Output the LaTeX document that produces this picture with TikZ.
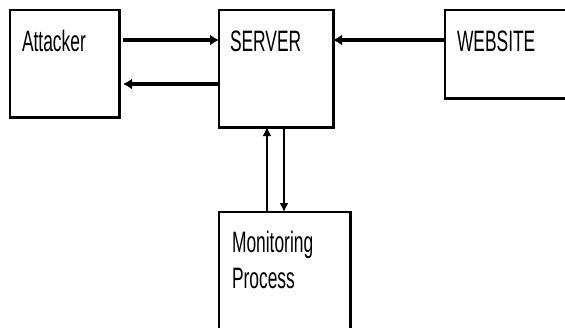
\documentclass[tikz,border=0pt]{standalone}
\usepackage{fontspec}
\usetikzlibrary{arrows.meta}
\newfontfamily\lblfont[FakeStretch=0.59]{Liberation Sans}
\tikzset{
  boxnode/.style={draw=black, line width=1.5pt, inner sep=0pt, outer sep=0pt, anchor=north west},
  heavyedge/.style={line width=3pt, line cap=rect},
  lbl/.style={inner sep=0pt, outer sep=0pt, anchor=base west, font=\lblfont\fontsize{29.5}{36}\selectfont},
  harrow/.style={line width=3.2pt, -{Latex[length=9pt,width=11pt]}},
  varrow/.style={line width=2pt, -{Latex[length=9pt,width=9pt]}}
}
\begin{document}
\begin{tikzpicture}[x=1pt,y=-1pt]
\fill[white] (0,0) rectangle (565,327);
\clip (0,0) rectangle (565,327);
% boxes
\node[boxnode, minimum width=109pt, minimum height=107pt] (att) at (10,10) {};
\node[boxnode, minimum width=114pt, minimum height=117pt] (srv) at (219,10) {};
\node[boxnode, minimum width=200pt, minimum height=88pt] (web) at (445,10) {};
\node[boxnode, minimum width=131pt, minimum height=140pt] (mon) at (219,212) {};
% heavier bottom/right edges
\draw[heavyedge] (att.south west) -- (att.south east) -- (att.north east);
\draw[heavyedge] (srv.south west) -- (srv.south east) -- (srv.north east);
\draw[heavyedge] (web.south west) -- (web.south east);
\draw[heavyedge] (mon.north east) -- (mon.south east);
% labels
\node[lbl] (tatt) at ([shift={(12,41)}]att.north west) {Attacker};
\node[lbl] (tsrv) at ([shift={(11,41)}]srv.north west) {SERVER};
\node[lbl] (tweb) at ([shift={(12,41)}]web.north west) {WEBSITE};
\node[lbl] (tmon1) at ([shift={(13,40)}]mon.north west) {Monitoring};
\node[lbl] (tmon2) at ([shift={(13,76)}]mon.north west) {Process};
% connectors
\draw[harrow] ([shift={(4,30)}]att.north east) -- ([shift={(0,30)}]srv.north west);
\draw[harrow] ([shift={(0,74)}]srv.north west) -- ([shift={(4,74)}]att.north east);
\draw[harrow] ([shift={(0,30)}]web.north west) -- ([shift={(0,30)}]srv.north east);
\draw[varrow] ([shift={(48,0)}]mon.north west) -- ([shift={(48,0)}]srv.south west);
\draw[varrow] ([shift={(65,0)}]srv.south west) -- ([shift={(65,0)}]mon.north west);
\end{tikzpicture}
\end{document}
